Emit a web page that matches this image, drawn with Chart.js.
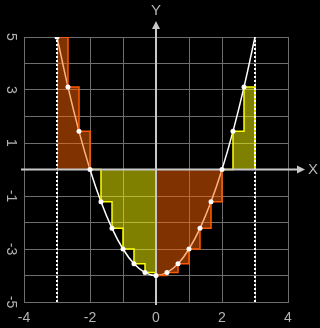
<!DOCTYPE html>
<html>
<head>
<meta charset="utf-8">
<script src="https://cdn.jsdelivr.net/npm/chart.js@4.4.0/dist/chart.umd.min.js"></script>
<style>
  html, body { margin: 0; padding: 0; background: #000; }
  canvas { display: block; }
</style>
</head>
<body>
<canvas id="chart" width="320" height="328"></canvas>
<script>
// curve samples, one every 1/3 from -3 to 3
const xs = [-3, -2.667, -2.333, -2, -1.667, -1.333, -1, -0.667, -0.333, 0,
            0.333, 0.667, 1, 1.333, 1.667, 2, 2.333, 2.667, 3];
const ys = [5, 3.11, 1.44, 0, -1.22, -2.22, -3, -3.56, -3.89, -4,
            -3.89, -3.56, -3, -2.22, -1.22, 0, 1.44, 3.11, 5];
// region borders for the step rectangles (left endpoint values)
const bounds = [-3, -2, 0, 2, 3];
const xTicks = [-4, -2, 0, 2, 4];
const yTicks = [5, 3, 1, -1, -3, -5];

const ORANGE = { fill: "rgba(255,100,0,0.5)", edge: "#ff5a00" };
const YELLOW = { fill: "rgba(255,255,0,0.5)", edge: "#ffff00" };
const GRID = "#6e6e6e";
const TEXT = "#b4b4b4";

function pt(i) { return { x: xs[i], y: ys[i] }; }

// stepped outline of one region, closed back to the axis at its right end
function regionPoints(a, b) {
    const pts = [];
    xs.forEach((x, i) => { if (x >= a - 1e-6 && x < b - 1e-6) pts.push(pt(i)); });
    pts.push({ x: b, y: 0 });
    return pts;
}

const regionSets = [];
for (let r = 0; r < bounds.length - 1; r++) {
    const c = r % 2 === 0 ? ORANGE : YELLOW;
    regionSets.push({
        data: regionPoints(bounds[r], bounds[r + 1]),
        stepped: "before",
        fill: "origin",
        backgroundColor: c.fill,
        borderColor: c.edge,
        borderWidth: 1.5,
        pointRadius: 0,
    });
}

function vline(x) {
    return {
        data: [{ x: x, y: -5 }, { x: x, y: 5 }],
        borderColor: "#ffffff",
        borderWidth: 2,
        borderDash: [2, 2],
        pointRadius: 0,
        fill: false,
    };
}

const axesPlugin = {
    id: "axes",
    beforeDatasetDraw(chart, args) {
        if (args.index !== 0) return;
        const { ctx, chartArea } = chart;
        const x0 = chart.scales.x.getPixelForValue(0);
        const y0 = chart.scales.y.getPixelForValue(0);
        ctx.save();
        ctx.strokeStyle = "#c8c8c8";
        ctx.fillStyle = "#c8c8c8";
        ctx.lineWidth = 2;
        ctx.beginPath();
        ctx.moveTo(chartArea.left - 3, y0);
        ctx.lineTo(chartArea.right + 11, y0);
        ctx.moveTo(x0, chartArea.bottom + 3);
        ctx.lineTo(x0, chartArea.top - 11);
        ctx.stroke();
        ctx.beginPath();
        ctx.moveTo(chartArea.right + 17, y0);
        ctx.lineTo(chartArea.right + 9, y0 - 4);
        ctx.lineTo(chartArea.right + 9, y0 + 4);
        ctx.closePath();
        ctx.moveTo(x0, chartArea.top - 16);
        ctx.lineTo(x0 - 4, chartArea.top - 8);
        ctx.lineTo(x0 + 4, chartArea.top - 8);
        ctx.closePath();
        ctx.fill();
        ctx.fillStyle = TEXT;
        ctx.font = '15px "Liberation Sans"';
        ctx.textAlign = "center";
        ctx.textBaseline = "middle";
        ctx.fillText("X", chartArea.right + 25, y0);
        ctx.fillText("Y", x0, chartArea.top - 26);
        ctx.restore();
    },
};

new Chart(document.getElementById("chart"), {
    type: "line",
    data: {
        datasets: [
            // dots at the left end of each rectangle
            {
                data: xs.slice(0, -1).map((x, i) => pt(i)),
                showLine: false,
                pointRadius: 2.5,
                pointBackgroundColor: "#ffffff",
                pointBorderWidth: 0,
            },
            vline(-3),
            vline(3),
            ...regionSets,
            // the curve itself
            {
                data: xs.map((x, i) => pt(i)),
                borderColor: "#ffffff",
                borderWidth: 1.5,
                tension: 0.4,
                pointRadius: 0,
                fill: false,
            },
        ],
    },
    options: {
        responsive: false,
        animation: false,
        devicePixelRatio: 1,
        layout: { padding: { top: 37, right: 32, left: 0, bottom: 0 } },
        plugins: { legend: { display: false }, tooltip: { enabled: false } },
        scales: {
            x: {
                type: "linear",
                min: -4, max: 4,
                afterFit: (s) => { s.height = 26; },
                grid: { color: GRID, drawTicks: false },
                border: { color: GRID },
                ticks: {
                    stepSize: 1, autoSkip: false, padding: 8,
                    color: TEXT, font: { family: "Liberation Sans", size: 14 },
                    maxRotation: 0,
                    callback: (v) => xTicks.includes(v) ? String(v) : "",
                },
            },
            y: {
                min: -5, max: 5,
                afterFit: (s) => { s.width = 24; },
                grid: { color: GRID, drawTicks: false },
                border: { color: GRID },
                ticks: {
                    stepSize: 1, autoSkip: false, padding: 7,
                    minRotation: -90, maxRotation: -90, crossAlign: "center",
                    color: TEXT, font: { family: "Liberation Sans", size: 14 },
                    callback: (v) => yTicks.includes(v) ? String(v) : "",
                },
            },
        },
    },
    plugins: [axesPlugin],
});
</script>
</body>
</html>
